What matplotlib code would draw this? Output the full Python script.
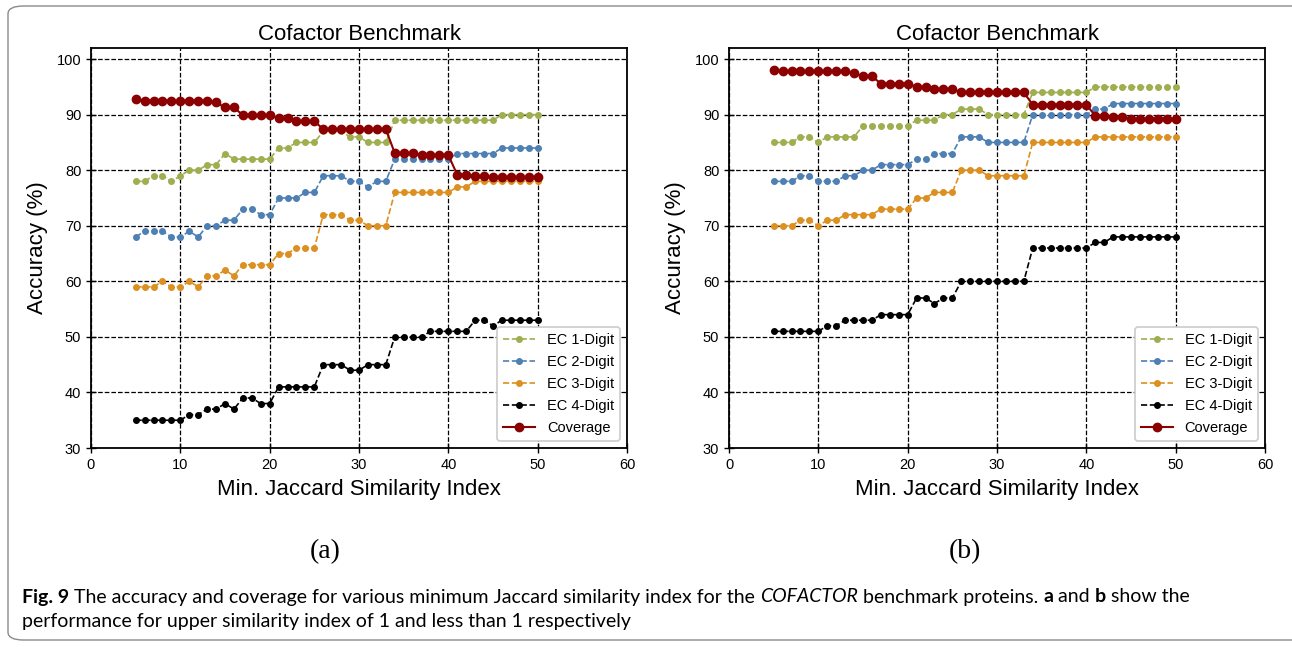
import matplotlib
matplotlib.use('Agg')
import matplotlib.pyplot as plt
from matplotlib.patches import FancyBboxPatch

plt.rcParams['font.family'] = ['Liberation Sans', 'DejaVu Sans']

x = list(range(5, 51))

# panel (a): upper similarity index of 1
ec1_a = [78, 78, 79, 79, 78, 79, 80, 80, 81, 81, 83, 82, 82, 82, 82, 82, 84, 84, 85, 85,
         85, 87, 87, 87, 86, 86, 85, 85, 85, 89, 89, 89, 89, 89, 89, 89, 89, 89, 89, 89,
         89, 90, 90, 90, 90, 90]
ec2_a = [68, 69, 69, 69, 68, 68, 69, 68, 70, 70, 71, 71, 73, 73, 72, 72, 75, 75, 75, 76,
         76, 79, 79, 79, 78, 78, 77, 78, 78, 82, 82, 82, 82, 82, 82, 82, 83, 83, 83, 83,
         83, 84, 84, 84, 84, 84]
ec3_a = [59, 59, 59, 60, 59, 59, 60, 59, 61, 61, 62, 61, 63, 63, 63, 63, 65, 65, 66, 66,
         66, 72, 72, 72, 71, 71, 70, 70, 70, 76, 76, 76, 76, 76, 76, 76, 77, 77, 78, 78,
         78, 78, 78, 78, 78, 78]
ec4_a = [35, 35, 35, 35, 35, 35, 36, 36, 37, 37, 38, 37, 39, 39, 38, 38, 41, 41, 41, 41,
         41, 45, 45, 45, 44, 44, 45, 45, 45, 50, 50, 50, 50, 51, 51, 51, 51, 51, 53, 53,
         52, 53, 53, 53, 53, 53]
cov_a = [92.8, 92.5, 92.5, 92.5, 92.5, 92.5, 92.5, 92.5, 92.5, 92.2, 91.3, 91.3, 89.9, 89.9,
         89.9, 89.9, 89.4, 89.4, 88.8, 88.8, 88.8, 87.4, 87.4, 87.4, 87.4, 87.4, 87.4, 87.4,
         87.4, 83.1, 83.1, 83.1, 82.7, 82.7, 82.7, 82.7, 79.2, 79.2, 78.9, 78.9, 78.7, 78.7,
         78.7, 78.7, 78.7, 78.7]

# panel (b): upper similarity index less than 1
ec1_b = [85, 85, 85, 86, 86, 85, 86, 86, 86, 86, 88, 88, 88, 88, 88, 88, 89, 89, 89, 90,
         90, 91, 91, 91, 90, 90, 90, 90, 90, 94, 94, 94, 94, 94, 94, 94, 95, 95, 95, 95,
         95, 95, 95, 95, 95, 95]
ec2_b = [78, 78, 78, 79, 79, 78, 78, 78, 79, 79, 80, 80, 81, 81, 81, 81, 82, 82, 83, 83,
         83, 86, 86, 86, 85, 85, 85, 85, 85, 90, 90, 90, 90, 90, 90, 90, 91, 91, 92, 92,
         92, 92, 92, 92, 92, 92]
ec3_b = [70, 70, 70, 71, 71, 70, 71, 71, 72, 72, 72, 72, 73, 73, 73, 73, 75, 75, 76, 76,
         76, 80, 80, 80, 79, 79, 79, 79, 79, 85, 85, 85, 85, 85, 85, 85, 86, 86, 86, 86,
         86, 86, 86, 86, 86, 86]
ec4_b = [51, 51, 51, 51, 51, 51, 52, 52, 53, 53, 53, 53, 54, 54, 54, 54, 57, 57, 56, 57,
         57, 60, 60, 60, 60, 60, 60, 60, 60, 66, 66, 66, 66, 66, 66, 66, 67, 67, 68, 68,
         68, 68, 68, 68, 68, 68]
cov_b = [98.1, 97.8, 97.8, 97.8, 97.8, 97.8, 97.8, 97.8, 97.8, 97.5, 96.9, 96.9, 95.6, 95.6,
         95.6, 95.6, 95.0, 95.0, 94.6, 94.6, 94.6, 94.0, 94.0, 94.0, 94.0, 94.0, 94.0, 94.0,
         94.0, 91.8, 91.8, 91.8, 91.8, 91.8, 91.8, 91.8, 89.8, 89.8, 89.6, 89.6, 89.3, 89.3,
         89.3, 89.3, 89.3, 89.3]

labels = ['EC 1-Digit', 'EC 2-Digit', 'EC 3-Digit', 'EC 4-Digit', 'Coverage']
colors = ['#9fae4e', '#4e80b4', '#dc9021', 'black', '#8b0000']

fig = plt.figure(figsize=(12.92, 6.47), dpi=100)

# rounded frame around the figure
frame = FancyBboxPatch((8 / 1292, 7 / 647), 1.05, 634 / 647,
                       boxstyle='round,pad=0,rounding_size=0.012',
                       transform=fig.transFigure, fill=False,
                       edgecolor='#8a8a8a', linewidth=1.0)
fig.patches.append(frame)


def draw_panel(ax, series, cov):
    for vals, lab, col in zip(series, labels[:4], colors[:4]):
        ax.plot(x, vals, '--', marker='o', color=col, lw=1.2, ms=4, label=lab)
    ax.plot(x, cov, '-', marker='o', color=colors[4], lw=1.5, ms=6, label=labels[4])
    ax.set_xlim(0, 60)
    ax.set_ylim(30, 102)
    ax.set_xticks(range(0, 61, 10))
    ax.set_yticks(range(30, 101, 10))
    ax.grid(True, color='black', linestyle='--', linewidth=0.9)
    ax.set_axisbelow(True)
    ax.tick_params(direction='inout', length=7, width=1, labelsize=10.5)
    for s in ax.spines.values():
        s.set_linewidth(1.3)
    ax.set_title('Cofactor Benchmark', fontsize=16, pad=6)
    ax.set_xlabel('Min. Jaccard Similarity Index', fontsize=16, labelpad=5)
    ax.set_ylabel('Accuracy (%)', fontsize=16, labelpad=6)
    leg = ax.legend(loc='lower right', fontsize=10.5, framealpha=1,
                    edgecolor='#cccccc', handlelength=2.2, labelspacing=0.55)
    leg.get_frame().set_linewidth(1.2)


ax1 = fig.add_axes([91 / 1292, 1 - 448 / 647, 536 / 1292, 400 / 647])
ax2 = fig.add_axes([729 / 1292, 1 - 448 / 647, 536 / 1292, 400 / 647])
draw_panel(ax1, [ec1_a, ec2_a, ec3_a, ec4_a], cov_a)
draw_panel(ax2, [ec1_b, ec2_b, ec3_b, ec4_b], cov_b)

fig.text(325 / 1292, 1 - 552 / 647, '(a)', family='Liberation Serif', fontsize=20,
         ha='center', va='center')
fig.text(965 / 1292, 1 - 552 / 647, '(b)', family='Liberation Serif', fontsize=20,
         ha='center', va='center')

# caption with mixed styles, pieces drawn one after another
cap_font = ['Lato', 'DejaVu Sans']
line1 = [('Fig. 9', 'bold', 'normal'),
         (' The accuracy and coverage for various minimum Jaccard similarity index for the ', 'normal', 'normal'),
         ('COFACTOR', 'normal', 'italic'),
         (' benchmark proteins. ', 'normal', 'normal'),
         ('a', 'bold', 'normal'),
         (' and ', 'normal', 'normal'),
         ('b', 'bold', 'normal'),
         (' show the', 'normal', 'normal')]
line2 = [('performance for upper similarity index of 1 and less than 1 respectively', 'normal', 'normal')]

renderer = fig.canvas.get_renderer()


def line_width(pieces, size):
    w = 0
    for txt, weight, style in pieces:
        t = fig.text(0, 0, txt, family=cap_font, fontsize=size, weight=weight, style=style)
        w += t.get_window_extent(renderer=renderer).width
        t.remove()
    return w


# size the caption so the first line spans like the reference
cap_size = 12 * (1162 / line_width(line1, 12))

for pieces, ypx in [(line1, 597), (line2, 622)]:
    xpos = 22 / 1292
    for txt, weight, style in pieces:
        t = fig.text(xpos, 1 - ypx / 647, txt, family=cap_font, fontsize=cap_size,
                     weight=weight, style=style, va='center', ha='left')
        bb = t.get_window_extent(renderer=renderer)
        xpos += bb.width / fig.bbox.width

fig.savefig('out.png', dpi=100)
